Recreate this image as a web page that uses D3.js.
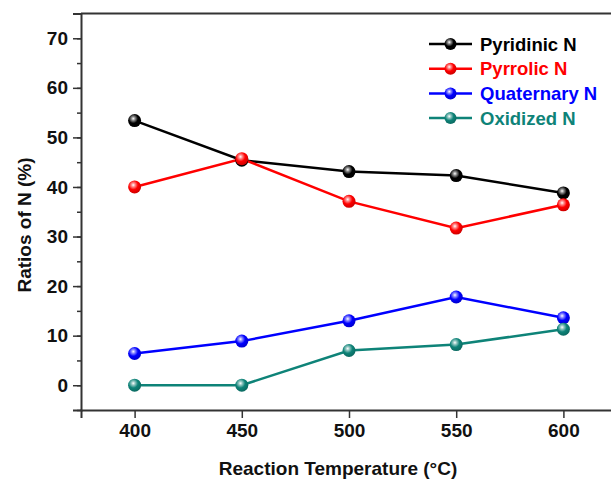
<!DOCTYPE html>
<html>
<head>
<meta charset="utf-8">
<script src="https://cdn.jsdelivr.net/npm/d3@7"></script>
<style>
  body { margin: 0; background: #fff; }
  text { font-family: Arial, "Liberation Sans", sans-serif; font-weight: bold; }
</style>
</head>
<body>
<script>
const temperatures = [400, 450, 500, 550, 600];
const pyridinic = [53.4, 45.4, 43.1, 42.3, 38.8];
const pyrrolic = [40.0, 45.7, 37.1, 31.7, 36.4];
const quaternary = [6.4, 8.9, 13.0, 17.8, 13.6];
const oxidized = [0, 0, 7.0, 8.2, 11.3];
const seriesNames = ["Pyridinic N", "Pyrrolic N", "Quaternary N", "Oxidized N"];
const yTicks = [0, 10, 20, 30, 40, 50, 60, 70];

const width = 611;
const height = 480;
const colors = ["#000000", "#ff0000", "#0000ff", "#0e8378"];
const series = [pyridinic, pyrrolic, quaternary, oxidized].map((vals, i) => ({
  name: seriesNames[i],
  color: colors[i],
  points: vals.map((v, j) => ({ t: temperatures[j], v: v }))
}));

const svg = d3.select("body").append("svg")
  .attr("width", width)
  .attr("height", height);

//Sphere-like marker gradients
const defs = svg.append("defs");
series.forEach((s, i) => {
  const g = defs.append("radialGradient")
    .attr("id", "ball" + i)
    .attr("cx", "40%").attr("cy", "35%").attr("r", "65%");
  g.append("stop").attr("offset", "0%").attr("stop-color", "#ffffff");
  g.append("stop").attr("offset", "22%").attr("stop-color", d3.interpolateRgb(s.color, "#fff")(0.55));
  g.append("stop").attr("offset", "55%").attr("stop-color", s.color);
  g.append("stop").attr("offset", "100%").attr("stop-color", d3.color(s.color).darker(0.6));
});

const xScale = d3.scaleLinear().domain([375, 625]).range([81, 617]);
const yScale = d3.scaleLinear().domain([-5, 75]).range([410, 13.5]);

//Frame top line
svg.append("line")
  .attr("x1", 81).attr("x2", 617)
  .attr("y1", 13.5).attr("y2", 13.5)
  .attr("stroke", "#333").attr("stroke-width", 2);

//X axis
const xAxis = svg.append("g")
  .attr("transform", "translate(0," + 410 + ")")
  .call(d3.axisBottom(xScale).tickValues(temperatures).tickSize(8).tickPadding(6));
xAxis.selectAll("text").attr("font-size", 19).attr("fill", "#111");

//Y axis with minor ticks
const yMinor = svg.append("g")
  .attr("transform", "translate(81,0)")
  .call(d3.axisLeft(yScale).tickValues(d3.range(-5, 76, 5)).tickSize(4).tickFormat(""));
yMinor.select(".domain").remove();
const yAxis = svg.append("g")
  .attr("transform", "translate(81,0)")
  .call(d3.axisLeft(yScale).tickValues(yTicks).tickSize(8).tickPadding(5));
yAxis.selectAll("text").attr("font-size", 19).attr("fill", "#111");

svg.selectAll(".domain").attr("stroke", "#333").attr("stroke-width", 2);
svg.selectAll(".tick line").attr("stroke", "#333").attr("stroke-width", 1.5);

//Axis titles
svg.append("text")
  .attr("x", 338).attr("y", 475)
  .attr("text-anchor", "middle")
  .attr("font-size", 19)
  .attr("fill", "#111")
  .text("Reaction Temperature (°C)");

svg.append("text")
  .attr("transform", "translate(31,225) rotate(-90)")
  .attr("text-anchor", "middle")
  .attr("font-size", 19)
  .attr("fill", "#111")
  .text("Ratios of N (%)");

//Lines and markers
const line = d3.line().x((d) => xScale(d.t)).y((d) => yScale(d.v));

series.forEach((s, i) => {
  svg.append("path")
    .datum(s.points)
    .attr("d", line)
    .attr("fill", "none")
    .attr("stroke", s.color)
    .attr("stroke-width", 2.5);
});
series.forEach((s, i) => {
  svg.selectAll(".pt" + i)
    .data(s.points)
    .enter()
    .append("circle")
    .attr("cx", (d) => xScale(d.t))
    .attr("cy", (d) => yScale(d.v))
    .attr("r", 6.5)
    .attr("fill", "url(#ball" + i + ")");
});

//Legend
const legend = svg.append("g");
series.forEach((s, i) => {
  const y = 44 + i * 24.7;
  legend.append("line")
    .attr("x1", 429).attr("x2", 472)
    .attr("y1", y).attr("y2", y)
    .attr("stroke", s.color).attr("stroke-width", 2.5);
  legend.append("circle")
    .attr("cx", 450.5).attr("cy", y).attr("r", 6)
    .attr("fill", "url(#ball" + i + ")");
  legend.append("text")
    .attr("x", 480).attr("y", y + 6.5)
    .attr("font-size", 18.5)
    .attr("fill", s.color)
    .text(s.name);
});
</script>
</body>
</html>
